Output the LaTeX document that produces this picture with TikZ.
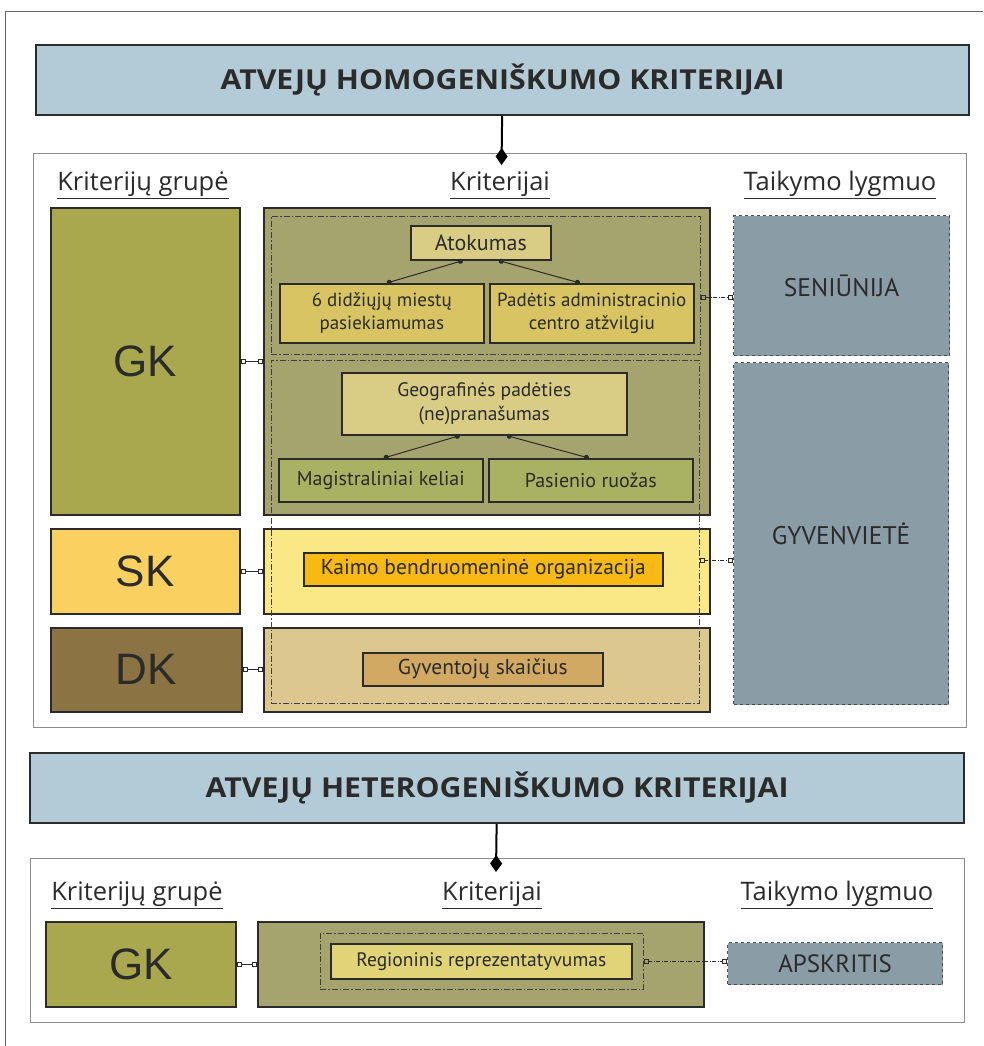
\documentclass[tikz,border=0pt]{standalone}
\usepackage{fontspec}
\setmainfont{PT Sans}
\newfontfamily\grpfont{Liberation Sans}
\newfontfamily\titlefont[FakeStretch=1.1]{Open Sans}
\newfontfamily\headfont{Open Sans}
\usetikzlibrary{arrows.meta}

\definecolor{titlecol}{HTML}{B3CBD7}
\definecolor{gkcol}{HTML}{A9A84F}
\definecolor{gkcrit}{HTML}{A6A46E}
\definecolor{khaki}{HTML}{D9CD86}
\definecolor{mustard}{HTML}{D8C462}
\definecolor{leaf}{HTML}{A9B262}
\definecolor{skcol}{HTML}{FAD160}
\definecolor{skcrit}{HTML}{FAE886}
\definecolor{kaimocol}{HTML}{F8B914}
\definecolor{dkcol}{HTML}{8C7343}
\definecolor{dkcrit}{HTML}{DCC78F}
\definecolor{gyvcol}{HTML}{D1A963}
\definecolor{lvlcol}{HTML}{8A9DA6}
\definecolor{regcol}{HTML}{E0D378}
\definecolor{inkcol}{HTML}{2B2B2B}

\tikzset{
  box/.style={draw=inkcol, line width=1.6pt, anchor=north west, inner sep=0pt, align=center, text=inkcol},
  hdrbox/.style={box, fill=titlecol, line width=2.2pt, font=\titlefont\fontsize{27.5}{30}\selectfont\bfseries},
  panel/.style={draw=black!45, line width=1pt, fill=white},
  grpbox/.style={box, font=\grpfont\fontsize{44}{48}\selectfont},
  critbox/.style={box, font=\fontsize{19}{23}\selectfont},
  lvlbox/.style={box, fill=lvlcol, draw=black!70, dashed, line width=1.2pt, font=\fontsize{25.5}{28}\selectfont},
  grpframe/.style={draw=black!75, line width=0.9pt, anchor=north west, inner sep=0pt, dash pattern=on 6pt off 2pt on 1.5pt off 2pt},
  heading/.style={font=\headfont\fontsize{25.5}{28}\selectfont, text=inkcol},
  sqlink/.style={draw=inkcol, line width=1pt, {Square[open,length=5pt,width=5pt]}-{Square[open,length=5pt,width=5pt]}},
  lvllink/.style={sqlink, dash pattern=on 4pt off 1.5pt on 1pt off 1.5pt},
  dotlink/.style={draw=inkcol, line width=1pt, {Circle[length=5pt]}-{Circle[length=5pt]}},
  stemline/.style={draw=black, line width=2pt, -{Diamond[length=17pt,width=12pt]}},
}

\begin{document}
\begin{tikzpicture}[x=1pt,y=-1pt]
    \useasboundingbox[fill=white] (0,0) rectangle (983,1046);
    \draw[black!60, line width=1pt] (5,1046) -- (5,12) -- (983,12);

    % homogeniskumo kriterijai
    \node[hdrbox, minimum width=933, minimum height=70] (t1) at (35,44) {ATVEJŲ HOMOGENIŠKUMO KRITERIJAI};
    \draw[panel] (33,153) rectangle (966,727);
    \coordinate (d1) at (501.5,165);
    \draw[stemline] (t1) -- (d1);

    \node[heading] (h1) at (143,185) {\underline{Kriterijų grupė}};
    \node[heading] (h2) at (500,185) {\underline{Kriterijai}};
    \node[heading] (h3) at (840,185) {\underline{Taikymo lygmuo}};

    \node[grpbox, fill=gkcol, minimum width=189, minimum height=307] (gk) at (50,207) {GK};
    \node[box, fill=gkcrit, minimum width=446, minimum height=307] (gkc) at (263,207) {};
    \node[grpbox, fill=skcol, minimum width=189, minimum height=85] (sk) at (50,528) {SK};
    \node[box, fill=skcrit, minimum width=446, minimum height=85] (skc) at (263,528) {};
    \node[grpbox, fill=dkcol, minimum width=191, minimum height=84] (dk) at (50,627) {DK};
    \node[box, fill=dkcrit, minimum width=446, minimum height=84] (dkc) at (263,627) {};

    \node[grpframe, minimum width=429, minimum height=138] (atg) at (271,216) {};
    \node[grpframe, minimum width=428, minimum height=343] (geg) at (271,360) {};

    \node[critbox, fill=khaki, minimum width=140, minimum height=34, font=\fontsize{22}{24}\selectfont] (atok) at (410,225) {Atokumas};
    \node[critbox, fill=mustard, minimum width=204, minimum height=59] (mies) at (279,283) {6 didžiųjų miestų\\pasiekiamumas};
    \node[critbox, fill=mustard, minimum width=204, minimum height=59] (pad) at (489,283) {Padėtis administracinio\\centro atžvilgiu};
    \node[critbox, fill=khaki, minimum width=285, minimum height=62, font=\fontsize{19.5}{24}\selectfont] (geo) at (341,372) {Geografinės padėties\\(ne)pranašumas};
    \node[critbox, fill=leaf, minimum width=204, minimum height=43, font=\fontsize{20}{24}\selectfont] (mag) at (278,458) {Magistraliniai keliai};
    \node[critbox, fill=leaf, minimum width=204, minimum height=43, font=\fontsize{20}{24}\selectfont] (pas) at (488,458) {Pasienio ruožas};
    \node[critbox, fill=kaimocol, minimum width=359, minimum height=33, font=\fontsize{21.5}{24}\selectfont] (kaimo) at (303,552) {Kaimo bendruomeninė organizacija};
    \node[critbox, fill=gyvcol, minimum width=240, minimum height=33, font=\fontsize{21.5}{24}\selectfont] (gyvs) at (362,652) {Gyventojų skaičius};

    \node[lvlbox, minimum width=216, minimum height=140] (sen) at (733,215) {SENIŪNIJA};
    \node[lvlbox, minimum width=215, minimum height=342] (gyv) at (733,362) {GYVENVIETĖ};

    \draw[dotlink] ([xshift=-18pt]atok.south) -- ([xshift=5pt]mies.north);
    \draw[dotlink] ([xshift=18pt]atok.south) -- ([xshift=-12pt]pad.north);
    \draw[dotlink] ([xshift=-24.5pt]geo.south) -- ([xshift=3pt]mag.north);
    \draw[dotlink] ([xshift=22.5pt]geo.south) -- ([xshift=-2pt]pas.north);

    \draw[sqlink] (gk.east) -- (gk.east -| gkc.west);
    \draw[sqlink] (sk.east) -- (sk.east -| skc.west);
    \draw[sqlink] (dk.east) -- (dk.east -| dkc.west);
    \coordinate (r1) at ([yshift=-12pt]atg.east);
    \coordinate (r2) at ([yshift=-28.5pt]geg.east);
    \draw[lvllink] (r1) -- (r1 -| sen.west);
    \draw[lvllink] (r2) -- (r2 -| gyv.west);

    % heterogeniskumo kriterijai
    \node[hdrbox, minimum width=934, minimum height=70] (t2) at (29,752) {ATVEJŲ HETEROGENIŠKUMO KRITERIJAI};
    \draw[panel] (30,858) rectangle (964,1022);
    \coordinate (d2) at (496,872);
    \draw[stemline] (t2) -- (d2);

    \node[heading] (h4) at (137,895) {\underline{Kriterijų grupė}};
    \node[heading] (h5) at (492,895) {\underline{Kriterijai}};
    \node[heading] (h6) at (837,895) {\underline{Taikymo lygmuo}};

    \node[grpbox, fill=gkcol, minimum width=190, minimum height=85] (gk2) at (45,921) {GK};
    \node[box, fill=gkcrit, minimum width=446, minimum height=85] (gkc2) at (257,921) {};
    \node[grpframe, minimum width=323, minimum height=56] (regf) at (320,933) {};
    \node[critbox, fill=regcol, minimum width=301, minimum height=35, font=\fontsize{19.5}{24}\selectfont] (reg) at (330,943) {Regioninis reprezentatyvumas};
    \node[lvlbox, minimum width=215, minimum height=42, font=\fontsize{25}{28}\selectfont] (aps) at (727,942) {APSKRITIS};

    \draw[sqlink] (gk2.east) -- (gk2.east -| gkc2.west);
    \draw[lvllink] (regf.east) -- (regf.east -| aps.west);
\end{tikzpicture}
\end{document}
